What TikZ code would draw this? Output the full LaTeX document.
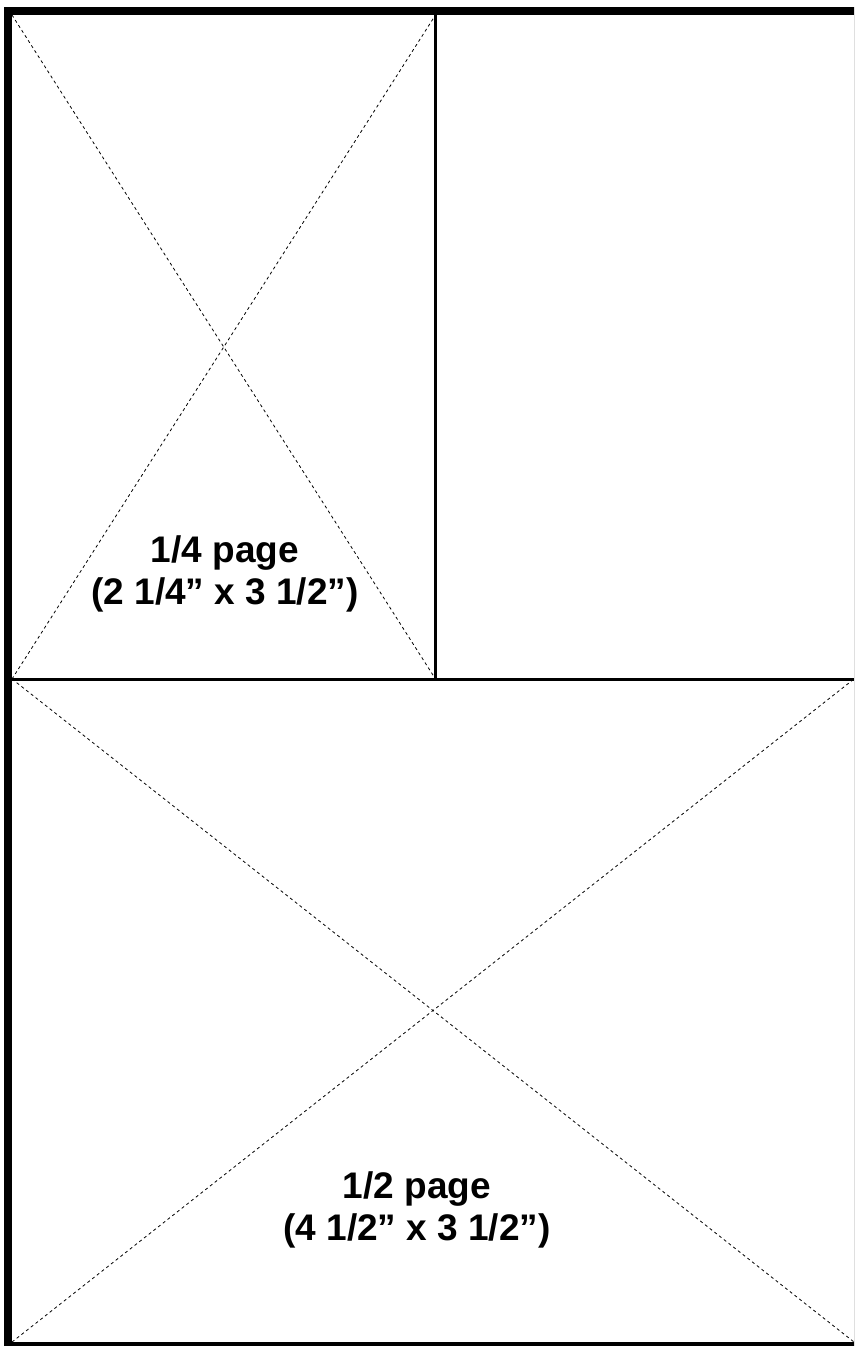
\documentclass[tikz,border=0pt]{standalone}
\usepackage{fontspec}
\setmainfont{Liberation Sans}
\begin{document}
\begin{tikzpicture}[x=1pt,y=-1pt,
  frame/.style={line width=8pt},
  divider/.style={line width=3pt},
  diag/.style={line width=0.8pt, dash pattern=on 3pt off 3pt},
  label/.style={font=\bfseries\fontsize{37}{42}\selectfont, align=center, inner sep=0pt}]
\useasboundingbox (0,0) rectangle (854,1346);
\clip (0,0) rectangle (854,1346);
\fill[white] (0,0) rectangle (854,1346);
% corners of the panels
\coordinate (tl) at (12,15);
\coordinate (tm) at (435.5,15);
\coordinate (ml) at (12,679);
\coordinate (mm) at (435.5,679);
\coordinate (mr) at (854,679);
\coordinate (bl) at (12,1342);
\coordinate (br) at (854,1342);
% diagonals
\draw[diag] (tl) -- (mm);
\draw[diag] (ml) -- (tm);
\draw[diag] (ml) -- (br);
\draw[diag] (bl) -- (mr);
% dividers
\draw[divider] (tm) -- (mm);
\draw[divider] (ml) -- (mr);
% outer frame
\draw[frame] (8,11) rectangle (858,1346);
% labels
\node[label] (quarter) at (225,574) {1/4 page\\(2 1/4” x 3 1/2”)};
\node[label] (half) at (417,1210) {1/2 page\\(4 1/2” x 3 1/2”)};
\end{tikzpicture}
\end{document}
